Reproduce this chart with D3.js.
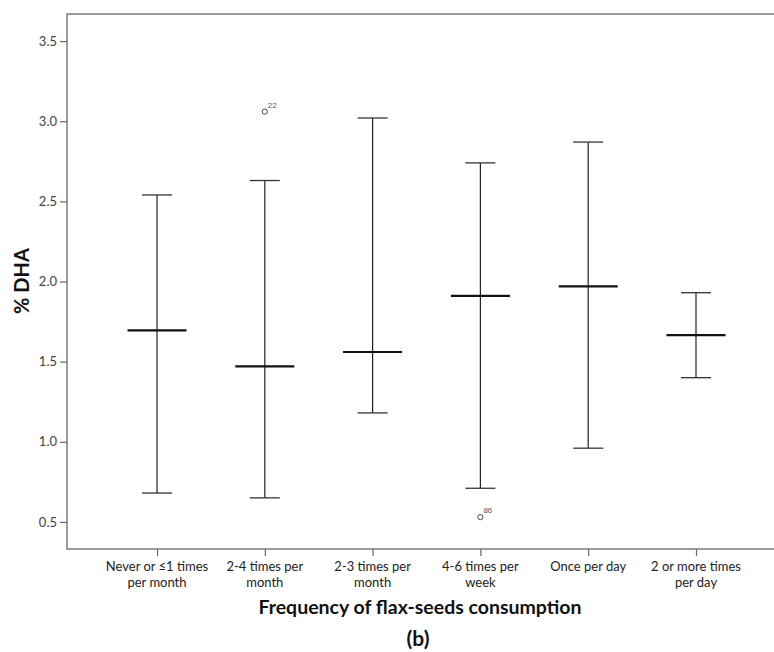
<!DOCTYPE html>
<html>
<head>
<meta charset="utf-8">
<script src="https://cdn.jsdelivr.net/npm/d3@7"></script>
<style>
  body { margin: 0; background: #fff; }
  svg { display: block; }
</style>
</head>
<body>
<div id="chart"></div>
<script>
// groups along the x axis, each label split in two lines
var categories = [
    ["Never or \u22641 times", "per month"],
    ["2-4 times per", "month"],
    ["2-3 times per", "month"],
    ["4-6 times per", "week"],
    ["Once per day", ""],
    ["2 or more times", "per day"]
];
var whiskerLow = [0.68, 0.65, 1.18, 0.71, 0.96, 1.40];
var medians = [1.695, 1.47, 1.56, 1.91, 1.97, 1.665];
var whiskerHigh = [2.54, 2.63, 3.02, 2.74, 2.87, 1.93];
// outliers: [group index, value, case number]
var outliers = [[1, 3.06, "22"], [3, 0.53, "86"]];
var yTicks = [0.5, 1.0, 1.5, 2.0, 2.5, 3.0, 3.5];

var W = 774, H = 652;
var margin = { top: 14, left: 67, bottom: 549 };

var svg = d3.select("#chart").append("svg")
    .attr("width", W)
    .attr("height", H);

var idx = categories.map(function (d, i) { return i; });
var x = d3.scalePoint().domain(idx).range([157, 696]);
var y = d3.scaleLinear().domain([0.331, 3.669]).range([margin.bottom, margin.top]);

var font = 'Lato, "Open Sans", sans-serif';

// frame (no right edge visible, cut at page edge)
svg.append("path")
    .attr("d", "M" + W + "," + margin.top + "H" + margin.left + "V" + margin.bottom + "H" + W)
    .attr("fill", "none")
    .attr("stroke", "#7a7a7a")
    .attr("stroke-width", 1.5);

// y axis
var yAxis = svg.append("g")
    .attr("transform", "translate(" + margin.left + ",0)")
    .call(d3.axisLeft(y).tickValues(yTicks).tickSize(7).tickPadding(3).tickFormat(d3.format(".1f")));
yAxis.select(".domain").remove();
yAxis.selectAll("line").attr("stroke", "#666").attr("stroke-width", 1.2);
yAxis.selectAll("text")
    .style("font", "13px " + font)
    .attr("fill", "#444");

// x axis
var xAxis = svg.append("g")
    .attr("transform", "translate(0," + margin.bottom + ")")
    .call(d3.axisBottom(x).tickSize(7).tickFormat(""));
xAxis.select(".domain").remove();
xAxis.selectAll("line").attr("stroke", "#666").attr("stroke-width", 1.2);

var xl = svg.append("g").selectAll("text")
    .data(categories)
    .enter().append("text")
    .attr("x", function (d, i) { return x(i); })
    .attr("y", 571)
    .attr("text-anchor", "middle")
    .style("font", "13px " + font)
    .attr("fill", "#222");
xl.append("tspan").attr("x", function (d, i) { return x(i); }).text(function (d) { return d[0]; });
xl.append("tspan").attr("x", function (d, i) { return x(i); }).attr("dy", 16).text(function (d) { return d[1]; });

// whiskers
var g = svg.append("g").selectAll("g")
    .data(idx)
    .enter().append("g");

g.append("line")
    .attr("x1", function (i) { return x(i); })
    .attr("x2", function (i) { return x(i); })
    .attr("y1", function (i) { return y(whiskerLow[i]); })
    .attr("y2", function (i) { return y(whiskerHigh[i]); })
    .attr("stroke", "#222").attr("stroke-width", 1.2);

[whiskerLow, whiskerHigh].forEach(function (arr) {
    g.append("line")
        .attr("x1", function (i) { return x(i) - 15; })
        .attr("x2", function (i) { return x(i) + 15; })
        .attr("y1", function (i) { return y(arr[i]); })
        .attr("y2", function (i) { return y(arr[i]); })
        .attr("stroke", "#333").attr("stroke-width", 1.3);
});

g.append("line")
    .attr("x1", function (i) { return x(i) - 29.5; })
    .attr("x2", function (i) { return x(i) + 29.5; })
    .attr("y1", function (i) { return y(medians[i]); })
    .attr("y2", function (i) { return y(medians[i]); })
    .attr("stroke", "#111").attr("stroke-width", 2.2);

// outliers
var o = svg.append("g").selectAll("g")
    .data(outliers)
    .enter().append("g")
    .attr("transform", function (d) { return "translate(" + x(d[0]) + "," + y(d[1]) + ")"; });
o.append("circle")
    .attr("r", 2.6)
    .attr("fill", "none")
    .attr("stroke", "#444")
    .attr("stroke-width", 1);
o.append("text")
    .attr("x", 3)
    .attr("y", -4)
    .style("font", "8px Arial, sans-serif")
    .attr("fill", "#555")
    .text(function (d) { return d[2]; });

// titles
svg.append("text")
    .attr("transform", "translate(29,281) rotate(-90)")
    .attr("text-anchor", "middle")
    .style("font", "bold 20px " + font)
    .attr("fill", "#111")
    .text("% DHA");

svg.append("text")
    .attr("x", 420)
    .attr("y", 614)
    .attr("text-anchor", "middle")
    .style("font", "bold 19.5px " + font)
    .attr("fill", "#111")
    .text("Frequency of flax-seeds consumption");

svg.append("text")
    .attr("x", 418)
    .attr("y", 646)
    .attr("text-anchor", "middle")
    .style("font", "bold 21px " + font)
    .attr("fill", "#111")
    .text("(b)");
</script>
</body>
</html>
